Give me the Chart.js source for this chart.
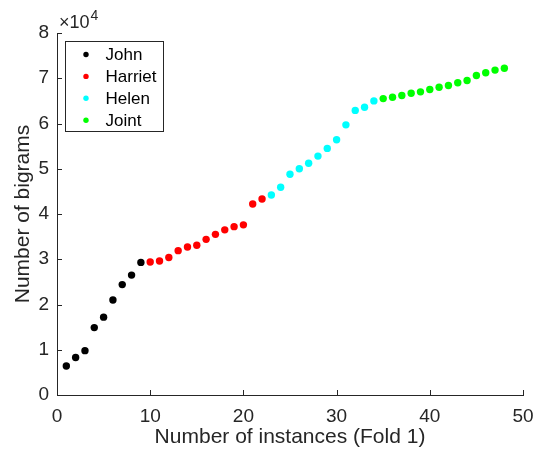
<!DOCTYPE html>
<html>
<head>
<meta charset="utf-8">
<script src="https://cdn.jsdelivr.net/npm/chart.js@4/dist/chart.umd.min.js"></script>
<style>
  html, body { margin: 0; padding: 0; background: #fff; }
  #wrap { width: 547px; height: 453px; }
</style>
</head>
<body>
<div id="wrap"><canvas id="c" width="547" height="453"></canvas></div>
<script>
// values (bigram counts per instance)
const johnX = [1, 2, 3, 4, 5, 6, 7, 8, 9];
const johnY = [6400, 8300, 9800, 14900, 17200, 21000, 24400, 26500, 29300];
const harrietX = [10, 11, 12, 13, 14, 15, 16, 17, 18, 19, 20, 21, 22];
const harrietY = [29400, 29600, 30400, 31900, 32700, 33100, 34400, 35500, 36500, 37200, 37600, 42200, 43300];
const helenX = [23, 24, 25, 26, 27, 28, 29, 30, 31, 32, 33, 34];
const helenY = [44200, 45900, 48800, 50000, 51200, 52800, 54500, 56400, 59700, 62900, 63600, 65000];
const jointX = [35, 36, 37, 38, 39, 40, 41, 42, 43, 44, 45, 46, 47, 48];
const jointY = [65500, 65800, 66200, 66700, 67000, 67500, 68000, 68400, 69000, 69500, 70600, 71200, 71800, 72200];

const xTicks = [0, 10, 20, 30, 40, 50];
const yTicks = [0, 1, 2, 3, 4, 5, 6, 7, 8]; // x 10^4

const axisColor = "#262626";
const font = "'Liberation Sans', Arial, sans-serif";

function pts(xs, ys) {
  return xs.map((x, i) => ({ x: x, y: ys[i] }));
}

function series(label, xs, ys, color) {
  return {
    label,
    data: pts(xs, ys),
    backgroundColor: color,
    borderColor: color,
    pointRadius: 3.7,
    pointBorderWidth: 0,
    showLine: false
  };
}

// inward tick marks, exponent label and the boxed legend
const decorations = {
  id: "decorations",
  afterDraw(chart) {
    const ctx = chart.ctx;
    const xs = chart.scales.x, ys = chart.scales.y;
    const a = chart.chartArea;
    ctx.save();
    ctx.strokeStyle = axisColor;
    ctx.lineWidth = 1;
    ctx.beginPath();
    xTicks.forEach(v => {
      const px = Math.round(xs.getPixelForValue(v)) + 0.5;
      ctx.moveTo(px, a.bottom);
      ctx.lineTo(px, a.bottom - 5);
    });
    yTicks.forEach(v => {
      const py = Math.round(ys.getPixelForValue(v * 10000)) + 0.5;
      ctx.moveTo(a.left, py);
      ctx.lineTo(a.left + 5, py);
    });
    ctx.stroke();

    // x10^4
    ctx.fillStyle = axisColor;
    ctx.textBaseline = "alphabetic";
    ctx.textAlign = "left";
    ctx.font = "18px " + font;
    ctx.fillText("\u00d710", a.left + 2, a.top - 5);
    const w = ctx.measureText("\u00d710").width;
    ctx.font = "14px " + font;
    ctx.fillText("4", a.left + 3 + w, a.top - 13);

    // legend
    const bx = 65.5, by = 41.5, bw = 98, bh = 90;
    ctx.fillStyle = "#fff";
    ctx.fillRect(bx, by, bw, bh);
    ctx.strokeStyle = axisColor;
    ctx.strokeRect(bx, by, bw, bh);
    ctx.font = "17px " + font;
    ctx.textBaseline = "middle";
    chart.data.datasets.forEach((ds, i) => {
      const cy = by + 13 + i * 21.9;
      ctx.fillStyle = ds.backgroundColor;
      ctx.beginPath();
      ctx.arc(bx + 20.5, cy, 2.7, 0, Math.PI * 2);
      ctx.fill();
      ctx.fillStyle = "#000";
      ctx.fillText(ds.label, bx + 40, cy + 1);
    });
    ctx.restore();
  }
};

new Chart(document.getElementById("c"), {
  type: "scatter",
  data: {
    datasets: [
      series("John", johnX, johnY, "#000000"),
      series("Harriet", harrietX, harrietY, "#ff0000"),
      series("Helen", helenX, helenY, "#00ffff"),
      series("Joint", jointX, jointY, "#00ff00")
    ]
  },
  options: {
    responsive: false,
    animation: false,
    layout: { padding: { top: 33, right: 24, left: 11, bottom: 3 } },
    plugins: {
      legend: { display: false },
      tooltip: { enabled: false }
    },
    scales: {
      x: {
        type: "linear",
        min: 0,
        max: 50,
        afterBuildTicks: s => { s.ticks = xTicks.map(v => ({ value: v })); },
        afterFit: s => { s.height = 55; },
        grid: { display: false, drawTicks: false },
        border: { display: true, color: axisColor, width: 1 },
        ticks: { color: axisColor, font: { family: font, size: 19 }, padding: 10, maxRotation: 0 },
        title: {
          display: true,
          text: "Number of instances (Fold 1)",
          color: axisColor,
          font: { family: font, size: 21 },
          padding: { top: 0, bottom: 0 }
        }
      },
      y: {
        type: "linear",
        min: 0,
        max: 80000,
        afterBuildTicks: s => { s.ticks = yTicks.map(v => ({ value: v * 10000 })); },
        afterFit: s => { s.width = 46; },
        grid: { display: false, drawTicks: false },
        border: { display: true, color: axisColor, width: 1 },
        ticks: {
          color: axisColor,
          font: { family: font, size: 19 },
          padding: 8,
          callback: v => String(v / 10000)
        },
        title: {
          display: true,
          text: "Number of bigrams",
          color: axisColor,
          font: { family: font, size: 21 },
          padding: { top: 0, bottom: 0 }
        }
      }
    }
  },
  plugins: [decorations]
});
</script>
</body>
</html>
